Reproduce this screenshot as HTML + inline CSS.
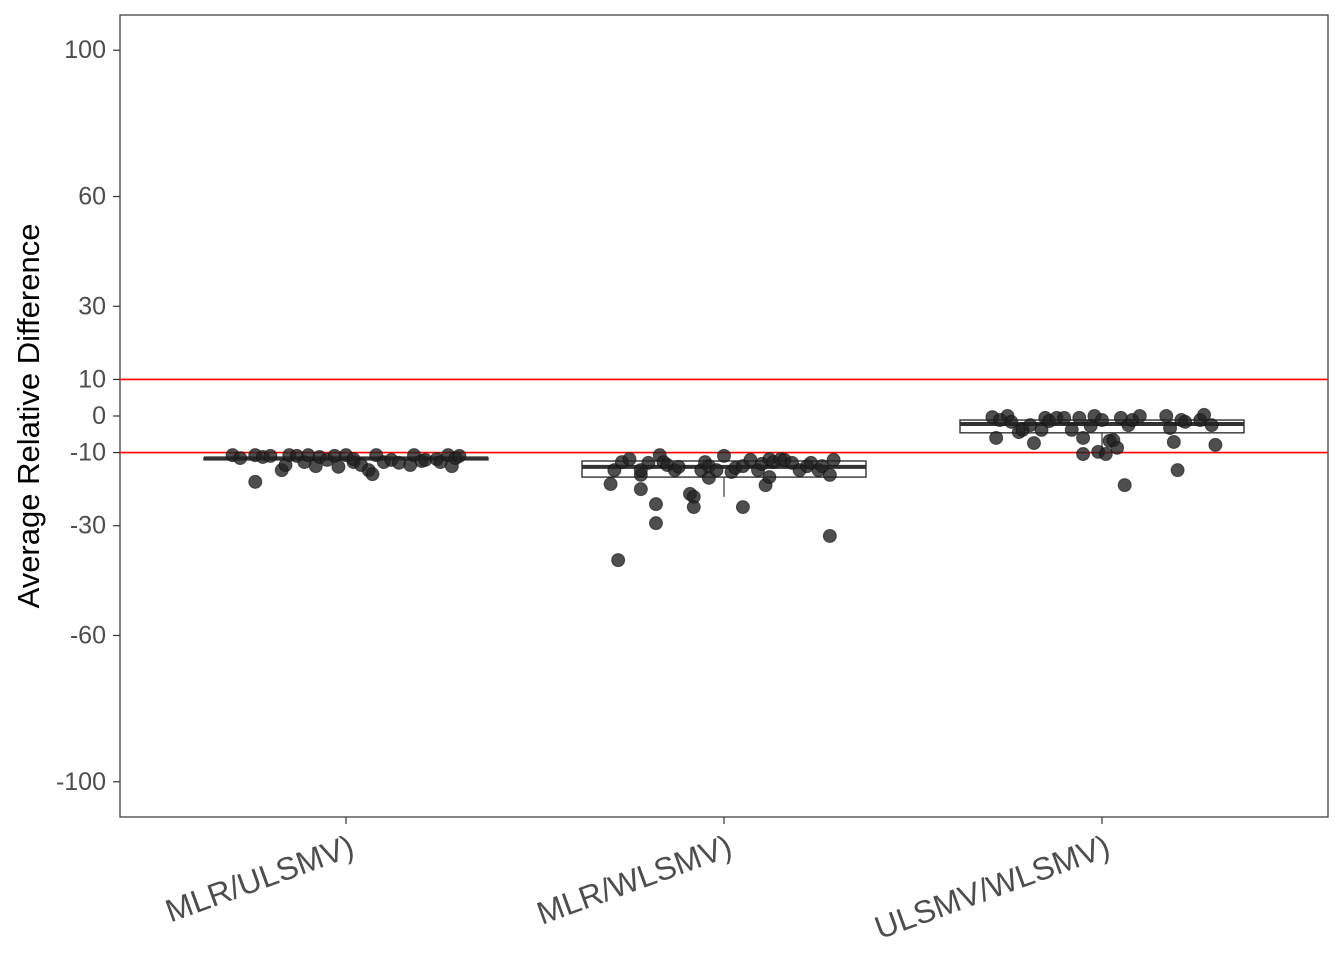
<!DOCTYPE html>
<html><head><meta charset="utf-8"><style>
html,body{margin:0;padding:0;background:#fff;}
svg{display:block;font-family:"Liberation Sans",Arial,sans-serif;}
</style></head><body>
<svg id="chart" width="1344" height="960">
<rect x="120" y="15" width="1208" height="802" fill="#fff" stroke="#333" stroke-width="1.2"/>
<g id="grid"></g><g id="boxes"></g><g id="points"></g><g id="axes"></g>
<text transform="translate(39,416) rotate(-90)" text-anchor="middle" font-size="31" fill="#000">Average Relative Difference</text>
</svg>
<script>
const categories=["MLR/ULSMV)","MLR/WLSMV)","ULSMV/WLSMV)"];
const yTicks=[100,60,30,10,0,-10,-30,-60,-100];
const refLines=[10,-10];
const boxQ1=[-12.0,-16.7,-4.6];
const boxMed=[-11.6,-13.9,-2.2];
const boxQ3=[-11.4,-12.3,-1.1];
const whiskLo=[-12.0,-22.1,-9.8];
const whiskHi=[-11.4,-12.3,-1.1];
const g1Off=[-0.30,-0.28,-0.24,-0.24,-0.22,-0.20,-0.17,-0.16,-0.15,-0.13,-0.11,-0.10,-0.08,-0.07,-0.05,-0.03,-0.02,0,0.02,0.02,0.04,0.06,0.07,0.08,0.10,0.12,0.14,0.17,0.18,0.20,0.21,0.24,0.25,0.27,0.28,0.29,0.30];
const g1Val=[-10.7,-11.5,-10.7,-18.0,-11.2,-10.9,-14.8,-13.4,-10.7,-10.9,-12.6,-10.7,-13.7,-11.2,-12.0,-10.9,-13.9,-10.7,-12.6,-11.8,-13.4,-14.8,-15.9,-10.7,-12.6,-12.0,-12.8,-13.4,-10.7,-12.3,-12.0,-11.8,-12.6,-10.7,-13.7,-11.5,-10.9];
const g2Off=[-0.30,-0.29,-0.27,-0.25,-0.22,-0.22,-0.20,-0.18,-0.18,-0.17,-0.16,-0.15,-0.13,-0.12,-0.09,-0.08,-0.08,-0.06,-0.05,-0.04,-0.04,-0.02,0.00,0.02,0.05,0.03,0.05,0.07,0.09,0.10,0.11,0.12,0.12,0.13,0.15,0.16,0.18,0.20,0.22,0.23,0.25,0.26,0.28,0.28,0.29,-0.28,-0.22];
const g2Val=[-18.6,-14.8,-12.6,-11.8,-20.0,-16.1,-12.8,-24.1,-29.3,-10.7,-12.6,-13.4,-14.8,-13.9,-21.3,-22.1,-24.9,-14.8,-12.6,-16.9,-13.7,-14.8,-10.9,-15.3,-24.9,-14.2,-13.7,-12.0,-14.8,-13.1,-18.9,-11.8,-16.7,-12.6,-11.8,-12.0,-12.8,-14.8,-13.7,-12.8,-14.8,-13.7,-16.1,-32.8,-12.0,-39.4,-14.8];
const g3Off=[-0.29,-0.28,-0.25,-0.24,-0.22,-0.21,-0.19,-0.18,-0.16,-0.15,-0.14,-0.12,-0.10,-0.08,-0.06,-0.05,-0.05,-0.03,-0.02,-0.01,0.00,0.01,0.02,0.03,0.04,0.05,0.06,0.07,0.08,0.10,0.17,0.18,0.19,0.20,0.21,0.22,0.26,0.27,0.30,0.29,-0.27];
const g3Val=[-0.3,-6.0,0.0,-1.6,-4.4,-3.8,-2.5,-7.4,-3.8,-0.5,-1.4,-0.5,-0.5,-3.8,-0.5,-6.0,-10.4,-2.7,0.0,-9.8,-1.1,-10.4,-6.8,-6.6,-8.7,-0.5,-18.9,-2.5,-1.1,0.0,0.0,-3.3,-7.1,-14.8,-1.1,-1.6,-1.1,0.3,-7.9,-2.5,-1.1];
const offs=[g1Off,g2Off,g3Off], vals=[g1Val,g2Val,g3Val];
const NS="http://www.w3.org/2000/svg";
const yS=v=>416-v*3.658;
const xS=i=>346+i*378;
const bw=284;
function mk(tag,attrs,parent){const e=document.createElementNS(NS,tag);for(const k in attrs)e.setAttribute(k,attrs[k]);document.getElementById(parent).appendChild(e);return e;}
refLines.forEach(v=>{const l=mk('line',{x1:120,x2:1328,y1:yS(v),y2:yS(v),stroke:'#ff0000','stroke-width':1.6},'grid');

});
categories.forEach((c,i)=>{
 const cx=xS(i);
 const w=mk('line',{x1:cx,x2:cx,y1:yS(whiskHi[i]),y2:yS(whiskLo[i]),stroke:'#333','stroke-width':1.2},'boxes');
 
 
 const r=mk('rect',{x:cx-bw/2,y:yS(boxQ3[i]),width:bw,height:Math.max(yS(boxQ1[i])-yS(boxQ3[i]),1),fill:'#fff',stroke:'#333','stroke-width':1.4},'boxes');
 
 
 const m=mk('line',{x1:cx-bw/2,x2:cx+bw/2,y1:yS(boxMed[i]),y2:yS(boxMed[i]),stroke:'#333','stroke-width':4},'boxes');
 
 
 offs[i].forEach((o,j)=>{const p=mk('circle',{cx:cx+o*378,cy:yS(vals[i][j]),r:6.5,fill:'#222','fill-opacity':0.8,stroke:'#111','stroke-opacity':0.6},'points');
  
  });
 const t=mk('line',{x1:cx,x2:cx,y1:817,y2:824,stroke:'#333','stroke-width':1.2},'axes');
 
 
 const lb=mk('text',{transform:`translate(${cx+10},${855}) rotate(-20)`,'text-anchor':'end','font-size':32,fill:'#4d4d4d'},'axes');
 lb.textContent=c;
 
 
});
yTicks.forEach(v=>{
 const t=mk('line',{x1:113,x2:120,y1:yS(v),y2:yS(v),stroke:'#333','stroke-width':1.2},'axes');
 
 
 const lb=mk('text',{x:106,y:yS(v)+8,'text-anchor':'end','font-size':25,fill:'#4d4d4d'},'axes');
 lb.textContent=v;
 
 
});
</script>
</body></html>
